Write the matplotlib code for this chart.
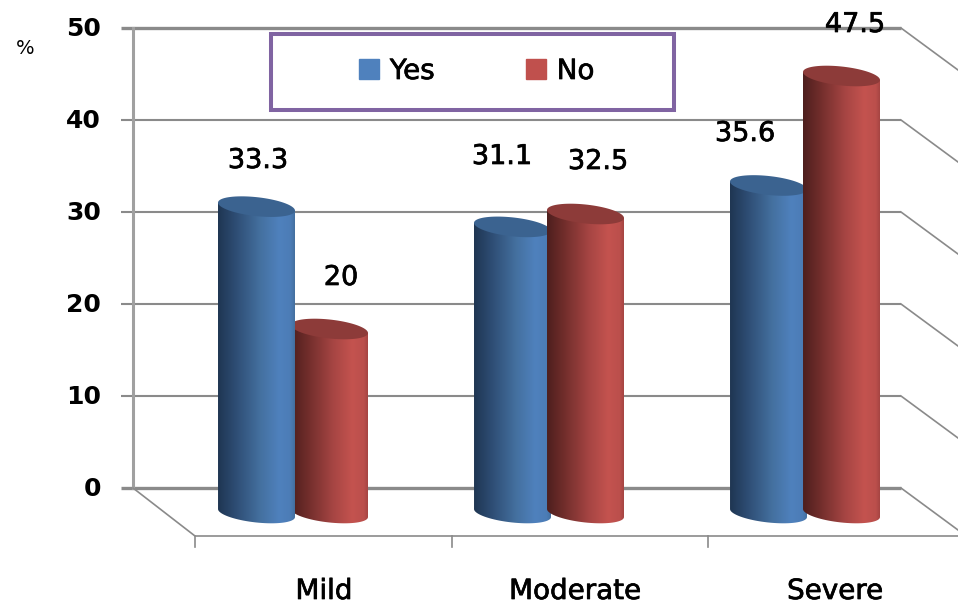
import numpy as np
import matplotlib
matplotlib.use("Agg")
import matplotlib.pyplot as plt
import matplotlib.patheffects as pe
from matplotlib.colors import LinearSegmentedColormap
from matplotlib.patches import Patch, Polygon, Rectangle
from matplotlib.transforms import Affine2D

categories = ["Mild", "Moderate", "Severe"]
yes_values = [33.3, 31.1, 35.6]
no_values = [20, 32.5, 47.5]
y_ticks = [0, 10, 20, 30, 40, 50]

W, H = 958, 609
PX_PER_UNIT = 9.2   # vertical pixels for one percent
PX_PER_CAT = 256    # horizontal pixels between groups
Y0_PX = 488         # back wall zero line
X0_PX = 293         # centre of the first group

BAR_W = 77 / PX_PER_CAT
BAR_OFF = 36.5 / PX_PER_CAT
BASE = -25 / PX_PER_UNIT    # bars stand in front of the back wall
ELL_B = 9.5 / PX_PER_UNIT
ELL_TILT = 4 / PX_PER_UNIT

GRID = "#8a8a8a"
HEAVY = [pe.withStroke(linewidth=0.5, foreground="black")]
blue_cmap = LinearSegmentedColormap.from_list("blue", [(0, "#1f3652"), (0.2, "#2c4a70"), (0.55, "#44709f"),
                                                       (0.8, "#4f81bd"), (0.95, "#4c7cb6"), (1, "#44709f")])
red_cmap = LinearSegmentedColormap.from_list("red", [(0, "#4e1f1e"), (0.2, "#6e2c2a"), (0.55, "#a64543"),
                                                     (0.8, "#c4534f"), (0.95, "#bb4f4c"), (1, "#a64543")])


def data_x(px):
    return (px - X0_PX) / PX_PER_CAT


def draw_cylinder(ax, x, value, cmap, top_color, z):
    top = BASE + value
    t = np.linspace(0, 2 * np.pi, 80)
    ex = BAR_W / 2 * np.cos(t)
    ey = ELL_B * np.sin(t) - ELL_TILT * np.cos(t)

    # body: right side, top rim, left side, then the lower half of the base ellipse
    lower = t[40:]
    low_x = x + BAR_W / 2 * np.cos(lower)
    low_y = BASE + ELL_B * np.sin(lower) - ELL_TILT * np.cos(lower)
    verts = [(x + BAR_W / 2, top - ELL_TILT), (x - BAR_W / 2, top + ELL_TILT)] + list(zip(low_x, low_y))
    body = Polygon(verts, closed=True, facecolor="none", edgecolor="none", zorder=z)
    ax.add_patch(body)
    grad = np.linspace(0, 1, 128).reshape(1, -1)
    im = ax.imshow(grad, cmap=cmap, aspect="auto", zorder=z, interpolation="bilinear",
                   extent=(x - BAR_W / 2, x + BAR_W / 2, BASE - 2, top + 2))
    im.set_clip_path(body)

    ax.fill(x + ex, top + ey, color=top_color, lw=0, zorder=z + 0.1)


fig = plt.figure(figsize=(W / 100, H / 100), dpi=100)
ax = fig.add_axes([0, 0, 1, 1])
ax.axis("off")

# pixel coordinates, origin top left, for the chart furniture
pix = Affine2D().scale(1, -1).translate(0, H)

# back wall grid, side wall slants
for v in y_ticks:
    lw = 2.4 if v in (0, 50) else 1.5
    ax.plot([data_x(121), data_x(901)], [v, v], color=GRID, lw=lw, zorder=1, solid_capstyle="butt")
    y_px = Y0_PX - v * PX_PER_UNIT
    ax.plot([901, 958], [y_px, y_px + 42], color=GRID, lw=1.2, transform=pix, zorder=1)

ax.plot([133, 133], [28, 488], color="#a0a0a0", lw=2.2, transform=pix, zorder=1)
ax.plot([133, 195, 958], [488, 536, 536], color=GRID, lw=1.2, transform=pix, zorder=1)
for tick_x in [195, 452, 708]:
    ax.plot([tick_x, tick_x], [536, 547], color=GRID, lw=1.2, transform=pix, zorder=1)

# the taller front bar of each pair goes on top of its neighbour
for i, (yes, no) in enumerate(zip(yes_values, no_values)):
    yes_z, no_z = (3, 2) if i == 0 else (2, 3)
    draw_cylinder(ax, i - BAR_OFF, yes, blue_cmap, "#3b6390", yes_z)
    draw_cylinder(ax, i + BAR_OFF, no, red_cmap, "#8d3b39", no_z)

# value labels sit by hand around the bar tops
yes_label_px = [(258, 161), (502, 157), (745, 134)]
no_label_px = [(341, 278), (598, 162), (855, 25)]
for value, (px, py) in zip(yes_values + no_values, yes_label_px + no_label_px):
    ax.text(px, py, f"{value:g}", transform=pix, ha="center", va="center", fontsize=19.5, color="black",
            zorder=5, path_effects=HEAVY)

for v in y_ticks:
    ax.text(101, Y0_PX - v * PX_PER_UNIT + 1, str(v), transform=pix, ha="right", va="center",
            fontsize=18, fontweight="bold", color="black")
ax.text(25, 48, "%", transform=pix, ha="center", va="center", fontsize=14, color="black")

for name, px in zip(categories, [324, 575, 835]):
    ax.text(px, 591, name, transform=pix, ha="center", va="center", fontsize=20, color="black", path_effects=HEAVY)

# legend with its purple frame
ax.add_patch(Rectangle((271, 34), 403, 76, transform=pix, facecolor="white", edgecolor="#8064a2", lw=2.9, zorder=4))
handles = [Patch(color="#4f81bd", label="Yes"), Patch(color="#c0504d", label="No")]
leg = ax.legend(handles=handles, ncol=2, frameon=False, fontsize=20, loc="center",
                bbox_to_anchor=(476.5 / W, 1 - 71 / H), bbox_transform=fig.transFigure,
                handlelength=0.72, handleheight=0.72, handletextpad=0.4, columnspacing=3.27)
leg.set_zorder(6)
for label in leg.get_texts():
    label.set_path_effects(HEAVY)

ax.set_xlim(data_x(0), data_x(W))
ax.set_ylim((Y0_PX - H) / PX_PER_UNIT, Y0_PX / PX_PER_UNIT)

fig.savefig("out.png", dpi=100, facecolor="white")
